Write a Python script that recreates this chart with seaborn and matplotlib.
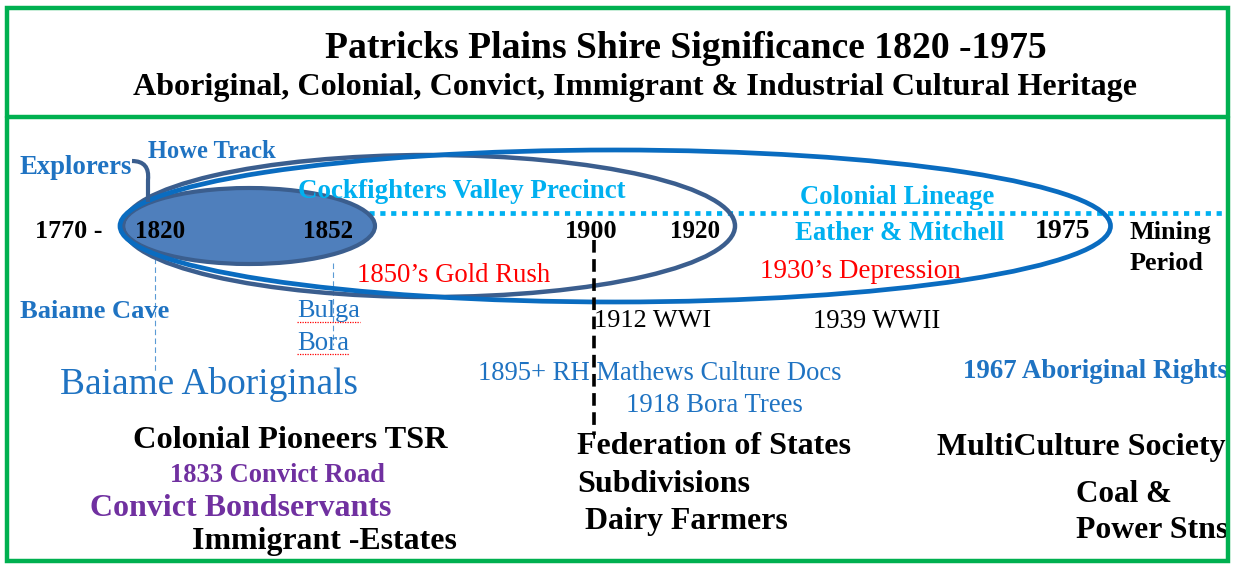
import numpy as np
import matplotlib
matplotlib.use("Agg")
import matplotlib.pyplot as plt
import seaborn as sns
from matplotlib.patches import Ellipse, Rectangle, PathPatch
from matplotlib.path import Path
from matplotlib.font_manager import FontProperties

# --- chart content ---
title = "Patricks Plains Shire Significance 1820 -1975"
subtitle = "Aboriginal, Colonial, Convict, Immigrant & Industrial Cultural Heritage"

timeline_labels = ["1770 -", "1820", "1852", "1900", "1920", "1975"]
timeline_years = [1770, 1820, 1852, 1900, 1920, 1975]

# eras drawn as ellipses: (start, end)
era_names = ["Explorers era", "Cockfighters Valley Precinct", "Colonial Lineage"]
era_start = [1820, 1820, 1820]
era_end = [1852, 1920, 1975]

top_labels = ["Howe Track", "Explorers", "Cockfighters Valley Precinct",
              "Colonial Lineage", "Eather & Mitchell"]
event_labels = ["1850\u2019s Gold Rush", "1930\u2019s Depression", "1912 WWI", "1939 WWII"]
place_labels = ["Baiame Cave", "Bulga", "Bora"]
aboriginal_labels = ["Baiame Aboriginals", "1895+ RH Mathews Culture Docs",
                     "1918 Bora Trees", "1967 Aboriginal Rights"]
heritage_labels = ["Colonial Pioneers TSR", "1833 Convict Road", "Convict Bondservants",
                   "Immigrant -Estates", "Federation of States", "Subdivisions",
                   "Dairy Farmers", "MultiCulture Society", "Coal &", "Power Stns"]
mining_label = ["Mining", "Period"]
federation_year = 1900

# --- layout (pixel coordinates: left x, centre y, target width) ---
timeline_x = [35, 135, 303, 565, 670, 1035]
timeline_w = [67, 50, 50, 52, 50, 55]
TIMELINE_Y = 229

top_pos = [(148, 148, 128), (20, 165, 113), (298, 188, 329), (800, 195, 195), (795, 230, 210)]
event_pos = [(357, 272, 193), (760, 269, 201), (594, 318, 117), (813, 318, 127)]
place_pos = [(20, 308, 150), (297, 308, 63), (297, 340, 52)]
aboriginal_pos = [(60, 381, 298), (478, 371, 365), (626, 402, 177), (963, 369, 264)]
heritage_pos = [(133, 438, 314), (170, 473, 215), (90, 506, 302), (192, 539, 266),
                (577, 444, 275), (577, 482, 173), (585, 519, 204), (937, 444, 289),
                (1076, 492, 96), (1076, 527, 152)]
mining_pos = [(1130, 230, 82), (1130, 260, 74)]

GREEN = "#00B050"
BLUE = "#1F73C2"
CYAN = "#00B0F0"
NAVY = "#3B5E8E"
FILL = "#4F7FBC"
PURPLE = "#7030A0"
RED = "#FF0000"
FAMILY = ["Liberation Serif", "DejaVu Serif"]

sns.set_theme(style="white")
plt.rcParams["font.family"] = FAMILY

W, H = 1233, 567
fig = plt.figure(figsize=(W / 100, H / 100), dpi=100)
ax = fig.add_axes([0, 0, 1, 1])
ax.set_xlim(0, W)
ax.set_ylim(H, 0)
ax.axis("off")
renderer = fig.canvas.get_renderer()


def fit_text(s, x, y, width, color="black", weight="bold", zorder=5):
    # scale the font so the label spans the same width as in the source
    prop = FontProperties(family=FAMILY, weight=weight, size=10)
    w, _, _ = renderer.get_text_width_height_descent(s, prop, ismath=False)
    size = 10 * width / w
    return ax.text(x, y + 3, s, ha="left", va="center", fontsize=size, color=color,
                   fontweight=weight, zorder=zorder)


def year_x(year):
    centres = [x + w / 2 for x, w in zip(timeline_x, timeline_w)]
    return np.interp(year, timeline_years, centres)


# border and header divider
ax.add_patch(Rectangle((7, 8), 1221, 553, fill=False, edgecolor=GREEN, lw=3.2, zorder=10))
ax.plot([7, 1228], [117, 117], color=GREEN, lw=3.2, zorder=10)

fit_text(title, 325, 45, 723)
fit_text(subtitle, 133, 85, 1007)

# dotted timeline
sns.lineplot(x=[130, 1225], y=[TIMELINE_Y - 16, TIMELINE_Y - 16], ax=ax, color=CYAN,
             lw=3.4, linestyle=(0, (1.1, 1.2)), zorder=2)

# era ellipses
pad_left = [37, 37, 40]
pad_right = [47, 40, 48]
heights = [76, 142, 152]
styles = [dict(facecolor=FILL, edgecolor=NAVY, lw=3),
          dict(facecolor="none", edgecolor=NAVY, lw=3.2),
          dict(facecolor="none", edgecolor="#0A6CC0", lw=3.4)]
for s, e, pl, pr, h, st in zip(era_start, era_end, pad_left, pad_right, heights, styles):
    x0 = year_x(s) - pl
    x1 = year_x(e) + pr
    ax.add_patch(Ellipse(((x0 + x1) / 2, TIMELINE_Y - 3), x1 - x0, h, zorder=3, **st))

# explorers connector
conn = Path([(132, 161), (150, 161), (148, 180), (148, 202)],
            [Path.MOVETO, Path.CURVE3, Path.CURVE3, Path.LINETO])
ax.add_patch(PathPatch(conn, facecolor="none", edgecolor=NAVY, lw=3, zorder=4))

# thin guide lines and federation marker
ax.plot([155, 155], [258, 372], color="#5B9BD5", lw=0.8, linestyle=(0, (5, 3)), zorder=1)
ax.plot([333, 333], [263, 345], color="#5B9BD5", lw=0.8, linestyle=(0, (5, 3)), zorder=1)
fx = year_x(federation_year) + 3
ax.plot([fx, fx], [240, 435], color="black", lw=2.6, linestyle=(0, (3.5, 1.8)), zorder=6)

for lab, x, w in zip(timeline_labels, timeline_x, timeline_w):
    fit_text(lab, x, TIMELINE_Y, w)
for lab, (x, y, w) in zip(mining_label, mining_pos):
    fit_text(lab, x, y, w)

for lab, (x, y, w) in zip(top_labels, top_pos):
    col = BLUE if lab in ("Howe Track", "Explorers") else CYAN
    fit_text(lab, x, y, w, color=col)

for lab, (x, y, w) in zip(event_labels, event_pos):
    col = RED if "\u2019s" in lab else "black"
    fit_text(lab, x, y, w, color=col, weight="normal")

for i, (lab, (x, y, w)) in enumerate(zip(place_labels, place_pos)):
    if i == 0:
        fit_text(lab, x, y, w, color=BLUE)
    else:
        fit_text(lab, x, y, w, color=BLUE, weight="normal")
        ax.plot([x, x + w], [y + 14, y + 14], color=RED, lw=0.9, linestyle=(0, (1, 1)), zorder=5)

for i, (lab, (x, y, w)) in enumerate(zip(aboriginal_labels, aboriginal_pos)):
    fit_text(lab, x, y, w, color=BLUE, weight="bold" if i == 3 else "normal")

for lab, (x, y, w) in zip(heritage_labels, heritage_pos):
    col = PURPLE if "Convict" in lab else "black"
    fit_text(lab, x, y, w, color=col)

fig.savefig("out.png", dpi=100, facecolor="white")
